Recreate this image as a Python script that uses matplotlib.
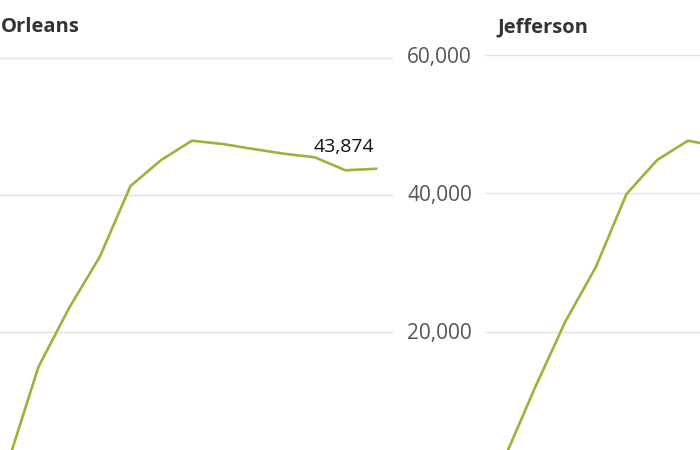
import matplotlib
matplotlib.use("Agg")
import matplotlib.pyplot as plt

plt.rcParams['font.family'] = ['Open Sans', 'DejaVu Sans']

# data (Jefferson is cut off at the right edge)
periods = list(range(13))
orleans = [850, 14930, 23550, 31030, 41360, 45150, 47970, 47490,
           46760, 46070, 45550, 43650, 43874]
jefferson = [1440, 11700, 21370, 29300, 39850, 44770, 47550, 46700]
panels = ["Orleans", "Jefferson"]
yticks = [20000, 40000, 60000]

line_color = "#9db23a"
grid_color = "#e2e2e2"

W, H = 700, 450
fig = plt.figure(figsize=(7, 4.5), dpi=100)
fig.patch.set_facecolor("white")


def px_axes(left, top, width, height):
    # pixel box (from top-left) -> figure fraction
    return fig.add_axes([left / W, 1 - (top + height) / H, width / W, height / H])


# Orleans panel: 0 at y=469.3, 60k at y=58.3
ax1 = px_axes(-11, 469.3 - 65000 * 0.00685, 404, 65000 * 0.00685)
# Jefferson panel: 0 at y=470, 60k at y=54.5
ax2 = px_axes(485, 470 - 65000 * 0.006925, 404, 65000 * 0.006925)

for ax, name, vals in [(ax1, panels[0], orleans), (ax2, panels[1], jefferson)]:
    ax.set_xlim(-0.609, 12.55)
    ax.set_ylim(0, 65000)
    ax.set_yticks(yticks)
    ax.set_yticklabels([f"{t:,}" for t in yticks])
    ax.set_xticks([])
    ax.tick_params(axis="y", length=0, pad=9.4, labelsize=15, labelcolor="#555555")
    for s in ax.spines.values():
        s.set_visible(False)
    ax.grid(axis="y", color=grid_color, linewidth=1)
    ax.set_axisbelow(True)
    ax.patch.set_alpha(0)
    ax.plot(periods[:len(vals)], vals, color=line_color, linewidth=1.9,
            solid_joinstyle="miter", clip_on=True)
    # panel title
    x0 = ax.get_position().x0 * W + 12
    fig.text(x0 / W, 1 - 32 / H, name, fontsize=14.5, fontweight="bold",
             color="#333333", va="baseline", ha="left")

# Orleans' own axis labels fall outside the visible crop
ax1.tick_params(axis="y", labelleft=False)

# last value label on Orleans
ax1.annotate(f"{orleans[-1]:,}", (periods[-1], orleans[-1]),
             xytext=(-1.4, 12.2), textcoords="offset points",
             ha="right", va="baseline", fontsize=14, color="#111111")

fig.savefig("out.png", dpi=100)
